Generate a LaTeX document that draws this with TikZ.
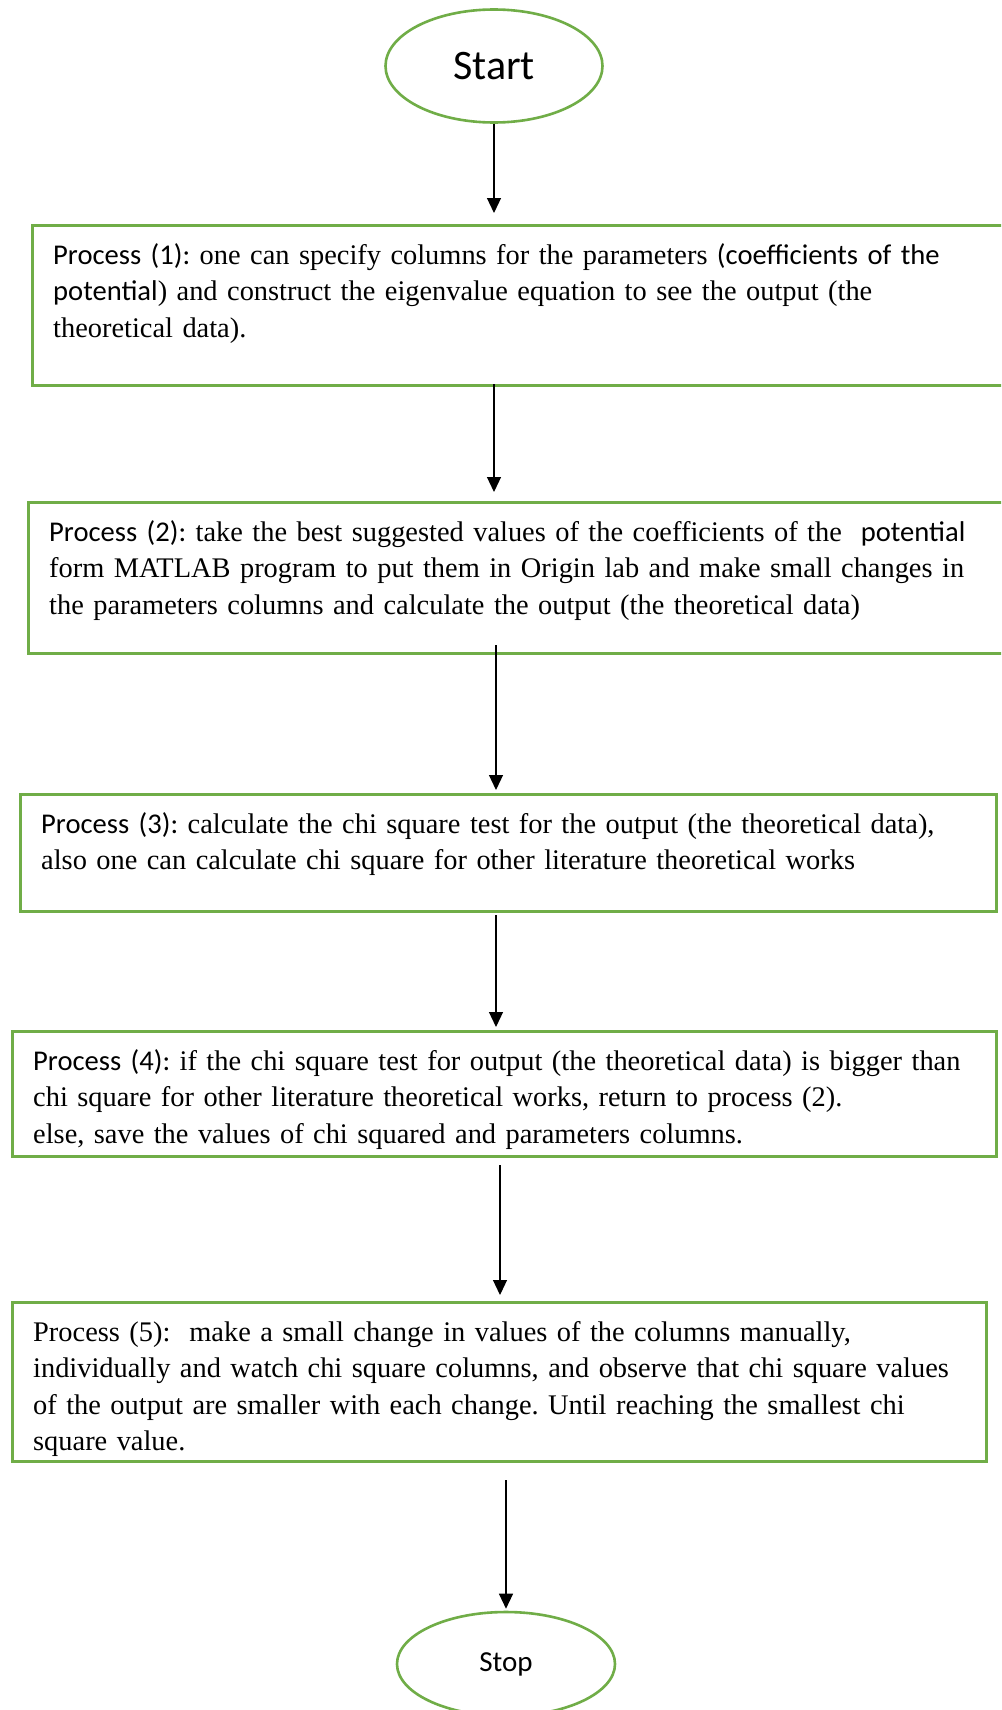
\documentclass[tikz,border=0pt]{standalone}
\usepackage{fontspec}
\setmainfont{Liberation Serif}
\newfontfamily\carlito{Carlito}
\usetikzlibrary{arrows.meta,positioning,shapes.geometric}

\definecolor{boxgreen}{HTML}{70AD47}
% Calibri 風格的片段
\newcommand{\sanspart}[1]{{\carlito\fontsize{28.6bp}{36.5bp}\selectfont #1}}

\begin{document}
\begin{tikzpicture}[
    x=1bp, y=-1bp, % 以像素為單位, y 向下
    >={Triangle[length=15bp, width=14bp]},
    flow/.style={->, line width=1.2bp},
    procbox/.style={draw=boxgreen, line width=2.6bp, anchor=north west, inner sep=0pt},
    proctext/.style={anchor=base west, inner sep=0pt, text width=990bp, align=left,
        font=\fontsize{28.4bp}{36.5bp}\selectfont\frenchspacing},
    terminal/.style={draw=boxgreen, line width=2.6bp, ellipse, inner sep=0pt}
]

    % --- 1. 畫布範圍 ---
    \clip (0,0) rectangle (1001,1710);
    \fill[white] (0,0) rectangle (1001,1710);

    % --- 2. Start / Stop (橢圓) ---
    \node[terminal, minimum width=217bp, minimum height=113bp,
          font=\carlito\fontsize{42bp}{50bp}\selectfont] (start) at (494,66) {Start};
    \node[terminal, minimum width=218bp, minimum height=104bp,
          font=\carlito\fontsize{29bp}{35bp}\selectfont] (stop) at (506,1664) {Stop};

    % --- 3. Process 方框 ---
    \node[procbox, minimum width=979bp, minimum height=160bp] (p1) at (31,224) {};
    \node[procbox, minimum width=983bp, minimum height=151bp] (p2) at (27,501) {};
    \node[procbox, minimum width=976bp, minimum height=117bp] (p3) at (19,793) {};
    \node[procbox, minimum width=984bp, minimum height=125bp] (p4) at (11,1030) {};
    \node[procbox, minimum width=974bp, minimum height=159bp] (p5) at (11,1301) {};

    % --- 4. 方框內文字 ---
    \node[proctext] (t1) at ([xshift=22bp, yshift=-40bp]p1.north west)
        {\sanspart{Process (1):} one can specify columns for the parameters \sanspart{(coefficients of the}\\
         \sanspart{potential}) and construct the eigenvalue equation to see the output (the\\
         theoretical data).};
    \node[proctext] (t2) at ([xshift=22bp, yshift=-40bp]p2.north west)
        {\sanspart{Process (2):} take the best suggested values of the coefficients of the\ \ \sanspart{potential}\\
         form MATLAB program to put them in Origin lab and make small changes in\\
         the parameters columns and calculate the output (the theoretical data)};
    \node[proctext] (t3) at ([xshift=22bp, yshift=-40bp]p3.north west)
        {\sanspart{Process (3):} calculate the chi square test for the output (the theoretical data),\\
         also one can calculate chi square for other literature theoretical works};
    \node[proctext] (t4) at ([xshift=22bp, yshift=-40bp]p4.north west)
        {\sanspart{Process (4):} if the chi square test for output (the theoretical data) is bigger than\\
         chi square for other literature theoretical works, return to process (2).\\
         else, save the values of chi squared and parameters columns.};
    \node[proctext] (t5) at ([xshift=22bp, yshift=-40bp]p5.north west)
        {Process (5):\ \ make a small change in values of the columns manually,\\
         individually and watch chi square columns, and observe that chi square values\\
         of the output are smaller with each change. Until reaching the smallest chi\\
         square value.};

    % --- 5. 箭頭 ---
    \coordinate (a1) at (494,384);
    \coordinate (a2) at (496,645);
    \coordinate (a3) at (496,915);
    \coordinate (a4) at (500,1165);
    \coordinate (a5) at (506,1480);

    \draw[flow, shorten >=11bp] (start.south) -- (start.south |- p1.north);
    \draw[flow, shorten >=9bp] (a1) -- (a1 |- p2.north);
    \draw[flow, shorten >=3bp] (a2) -- (a2 |- p3.north);
    \draw[flow, shorten >=3bp] (a3) -- (a3 |- p4.north);
    \draw[flow, shorten >=6bp] (a4) -- (a4 |- p5.north);
    \draw[flow, shorten >=2bp] (a5) -- (a5 |- stop.north);

\end{tikzpicture}
\end{document}
